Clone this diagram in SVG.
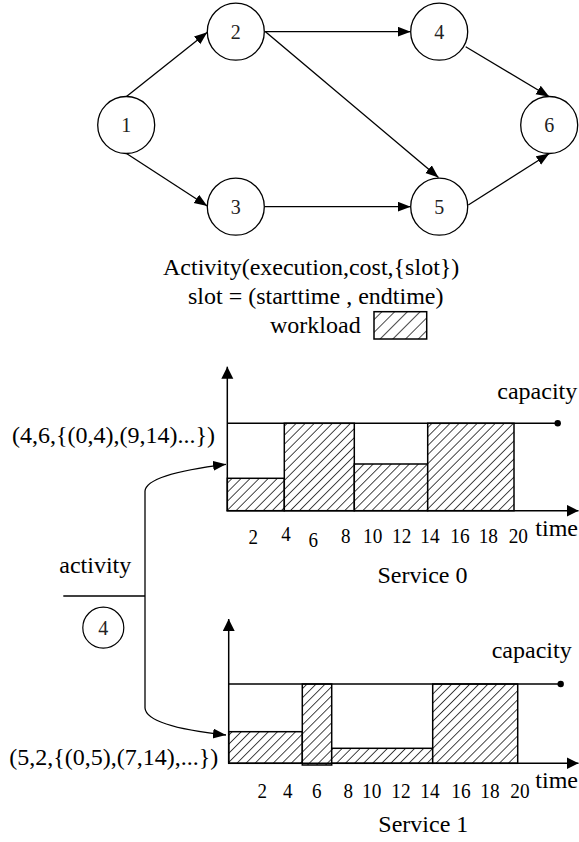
<svg xmlns="http://www.w3.org/2000/svg" width="579" height="842" viewBox="0 0 579 842">
<style>
.node circle{fill:#fff;stroke:#000;stroke-width:1.3}
.nl{font-family:"Liberation Serif","Times New Roman",serif;font-size:20px;fill:#222;text-anchor:middle}
.t{font-family:"Liberation Serif","Times New Roman",serif;font-size:24px;fill:#000}
.tk{font-family:"Liberation Serif","Times New Roman",serif;font-size:22px;fill:#000;text-anchor:middle}
.edge{stroke:#000;stroke-width:1.3;fill:none;marker-end:url(#ah)}
.axis{stroke:#000;stroke-width:1.5;fill:none;marker-end:url(#ax)}
.cap{stroke:#000;stroke-width:1.5}
.bar{fill:url(#hatch);stroke:#000;stroke-width:1.5}
</style>
<defs>
<marker id="ah" markerUnits="userSpaceOnUse" markerWidth="14" markerHeight="12" refX="13" refY="5" orient="auto"><path d="M0,0 L13,5 L0,10 z" fill="#000"/></marker>
<marker id="ax" markerUnits="userSpaceOnUse" markerWidth="14" markerHeight="14" refX="12" refY="6" orient="auto"><path d="M0,0 L12,6 L0,12 z" fill="#000"/></marker>
<pattern id="hatch" patternUnits="userSpaceOnUse" width="6.4" height="6.4" patternTransform="rotate(45)"><rect width="6.4" height="6.4" fill="#fff"/><line x1="3.2" y1="0" x2="3.2" y2="6.4" stroke="#333" stroke-width="0.9"/></pattern>
<pattern id="hatch2" patternUnits="userSpaceOnUse" width="9" height="9" patternTransform="rotate(45)"><rect width="9" height="9" fill="#fff"/><line x1="4.5" y1="0" x2="4.5" y2="9" stroke="#333" stroke-width="0.9"/></pattern>
</defs>

<g id="connectors">
<line class="edge" x1="126.5" y1="96.5" x2="207.3" y2="32.3"/>
<line class="edge" x1="126.5" y1="153.5" x2="207.3" y2="206"/>
<line class="edge" x1="264.5" y1="31.7" x2="410.7" y2="31.7"/>
<line class="edge" x1="265.5" y1="31.7" x2="438.5" y2="177.5"/>
<line class="edge" x1="264.5" y1="206.7" x2="410.7" y2="206.7"/>
<line class="edge" x1="465.7" y1="46.7" x2="549.3" y2="96.7"/>
<line class="edge" x1="468.3" y1="205" x2="549.3" y2="153.5"/>
<line x1="63.3" y1="596" x2="145" y2="596" stroke="#000" stroke-width="1.3"/>
<line x1="145" y1="491" x2="145" y2="708" stroke="#000" stroke-width="1.3"/>
<path class="edge" d="M145,491 C146,478 180,470 226,464.3"/>
<path class="edge" d="M145,708 C146,722 180,730 226,735"/>
</g>

<g id="n1" class="node"><circle cx="126.2" cy="125" r="28.5"/><text class="nl" x="126.2" y="132">1</text></g>
<g id="n2" class="node"><circle cx="235.8" cy="31.7" r="28.5"/><text class="nl" x="235.8" y="38.7">2</text></g>
<g id="n3" class="node"><circle cx="235.8" cy="206.7" r="28.5"/><text class="nl" x="235.8" y="213.7">3</text></g>
<g id="n4" class="node"><circle cx="439.2" cy="31.7" r="28.5"/><text class="nl" x="439.2" y="38.7">4</text></g>
<g id="n5" class="node"><circle cx="439.2" cy="206.7" r="28.5"/><text class="nl" x="439.2" y="213.7">5</text></g>
<g id="n6" class="node"><circle cx="549.2" cy="125" r="28.5"/><text class="nl" x="549.2" y="132">6</text></g>

<g id="legend">
<text class="t" x="163" y="275">Activity(execution,cost,{slot})</text>
<text class="t" x="188" y="304">slot = (starttime , endtime)</text>
<text class="t" x="270" y="333">workload</text>
<rect x="374" y="311.7" width="52.7" height="27.3" fill="url(#hatch2)" stroke="#000" stroke-width="1.5"/>
</g>

<g id="service0">
<rect class="bar" x="227.3" y="478.3" width="57" height="32.4"/>
<rect class="bar" x="284.3" y="423.3" width="70" height="87.4"/>
<rect class="bar" x="354.3" y="464" width="73.4" height="46.7"/>
<rect class="bar" x="427.7" y="423.3" width="86.3" height="87.4"/>
<line class="cap" x1="227.3" y1="423.3" x2="557.7" y2="423.3"/>
<circle cx="557.7" cy="423.3" r="3.2" fill="#000"/>
<line class="axis" x1="227.3" y1="510.7" x2="227.3" y2="366.7"/>
<line class="axis" x1="226.5" y1="510.7" x2="578.5" y2="510.7"/>
<text class="t" x="497.3" y="399">capacity</text>
<text class="t" x="12" y="443">(4,6,{(0,4),(9,14)...})</text>
<text class="tk" x="253.3" y="544" textLength="9.5" lengthAdjust="spacingAndGlyphs">2</text>
<text class="tk" x="286" y="541" textLength="9.5" lengthAdjust="spacingAndGlyphs">4</text>
<text class="tk" x="313.3" y="547" textLength="9.5" lengthAdjust="spacingAndGlyphs">6</text>
<text class="tk" x="345.7" y="543" textLength="9.5" lengthAdjust="spacingAndGlyphs">8</text>
<text class="tk" x="372.7" y="543" textLength="19.3" lengthAdjust="spacingAndGlyphs">10</text>
<text class="tk" x="401.7" y="543" textLength="19.3" lengthAdjust="spacingAndGlyphs">12</text>
<text class="tk" x="430" y="543" textLength="19.3" lengthAdjust="spacingAndGlyphs">14</text>
<text class="tk" x="460" y="543" textLength="19.3" lengthAdjust="spacingAndGlyphs">16</text>
<text class="tk" x="488.3" y="543" textLength="19.3" lengthAdjust="spacingAndGlyphs">18</text>
<text class="tk" x="518.3" y="543" textLength="19.3" lengthAdjust="spacingAndGlyphs">20</text>
<text class="t" x="556.7" y="536" text-anchor="middle">time</text>
<text class="t" x="422.5" y="583" text-anchor="middle">Service 0</text>
</g>

<g id="activity">
<text class="t" x="59.3" y="573">activity</text>
<circle cx="103.3" cy="627.7" r="20.5" fill="#fff" stroke="#000" stroke-width="1.2"/>
<text class="nl" x="103.3" y="635" font-size="21">4</text>
</g>

<g id="service1">
<rect class="bar" x="228.7" y="731.7" width="73.6" height="31.6"/>
<rect class="bar" x="302.3" y="684" width="29.4" height="81"/>
<rect class="bar" x="331.7" y="748.3" width="101" height="15"/>
<rect class="bar" x="432.7" y="684" width="85" height="79.3"/>
<line class="cap" x1="228.7" y1="684" x2="560.7" y2="684"/>
<circle cx="560.7" cy="684" r="3.2" fill="#000"/>
<line class="axis" x1="228.7" y1="763.3" x2="228.7" y2="619"/>
<line class="axis" x1="228" y1="763.3" x2="578.5" y2="763.3"/>
<text class="t" x="491.7" y="658">capacity</text>
<text class="t" x="9.3" y="765">(5,2,{(0,5),(7,14),...})</text>
<text class="tk" x="262.3" y="798" textLength="9.5" lengthAdjust="spacingAndGlyphs">2</text>
<text class="tk" x="287.8" y="798" textLength="9.5" lengthAdjust="spacingAndGlyphs">4</text>
<text class="tk" x="316.7" y="798" textLength="9.5" lengthAdjust="spacingAndGlyphs">6</text>
<text class="tk" x="348.3" y="798" textLength="9.5" lengthAdjust="spacingAndGlyphs">8</text>
<text class="tk" x="371.7" y="798" textLength="19.3" lengthAdjust="spacingAndGlyphs">10</text>
<text class="tk" x="401" y="798" textLength="19.3" lengthAdjust="spacingAndGlyphs">12</text>
<text class="tk" x="430" y="798" textLength="19.3" lengthAdjust="spacingAndGlyphs">14</text>
<text class="tk" x="461" y="798" textLength="19.3" lengthAdjust="spacingAndGlyphs">16</text>
<text class="tk" x="490" y="798" textLength="19.3" lengthAdjust="spacingAndGlyphs">18</text>
<text class="tk" x="520" y="798" textLength="19.3" lengthAdjust="spacingAndGlyphs">20</text>
<text class="t" x="556.7" y="788" text-anchor="middle">time</text>
<text class="t" x="423.3" y="832" text-anchor="middle">Service 1</text>
</g>
</svg>
